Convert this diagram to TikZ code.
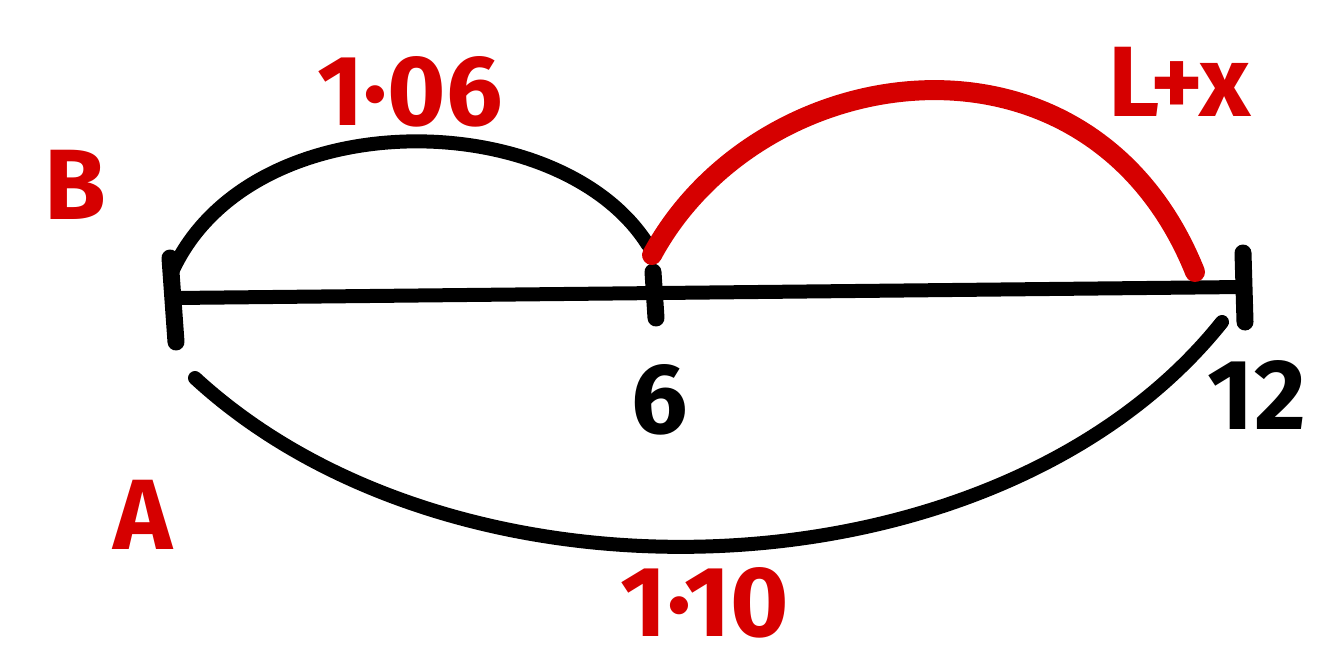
\documentclass[tikz,border=0pt]{standalone}
\usepackage{fontspec}
\setmainfont{Fira Sans}
\definecolor{hred}{RGB}{214,0,0}
\begin{document}
\begin{tikzpicture}[x=1pt,y=-1pt,
  blk/.style={draw=black,line width=14pt,line cap=round,line join=round},
  tick/.style={draw=black,line width=17pt,line cap=round},
  redarc/.style={draw=hred,line width=20pt,line cap=round,line join=round},
  redlbl/.style={text=hred,font=\fontsize{100}{110}\selectfont\bfseries,inner sep=0pt},
  blklbl/.style={text=black,font=\fontsize{100}{110}\selectfont\bfseries,inner sep=0pt}]
\useasboundingbox (0,0) rectangle (1333,662);
% axis points
\coordinate (L) at (175,298);
\coordinate (R) at (1243,287);
\coordinate (LtA) at (170,258);
\coordinate (LtB) at (176,342);
\coordinate (MtA) at (653,272);
\coordinate (MtB) at (656,318);
\coordinate (RtA) at (1243,253);
\coordinate (RtB) at (1245,322);
\coordinate (u1) at (172,272);
\coordinate (u2) at (648,245);
\coordinate (r1) at (652,255);
\coordinate (r2) at (1195,272);
\coordinate (d1) at (195,378);
\coordinate (d2) at (1222,322);
% main line and ticks
\draw[blk] (L) -- (R);
\draw[tick] (LtA) -- (LtB);
\draw[tick] (MtA) -- (MtB);
\draw[tick] (RtA) -- (RtB);
% arcs
\draw[blk] (u1) .. controls (250,100) and (560,105) .. (u2);
\draw[blk] (d1) .. controls (460,622) and (1000,600) .. (d2);
\draw[redarc] (r1) .. controls (760,55) and (1090,10) .. (r2);
% labels
\node[redlbl] (B) at (75,185) {B};
\node[redlbl] (t1) at (410,92) {1·06};
\node[redlbl] (t2) at (1180,82) {L+x};
\node[blklbl] (six) at (660,400) {6};
\node[blklbl] (twelve) at (1257,395) {12};
\node[redlbl] (A) at (143,515) {A};
\node[redlbl] (t3) at (705,603) {1·10};
\end{tikzpicture}
\end{document}
